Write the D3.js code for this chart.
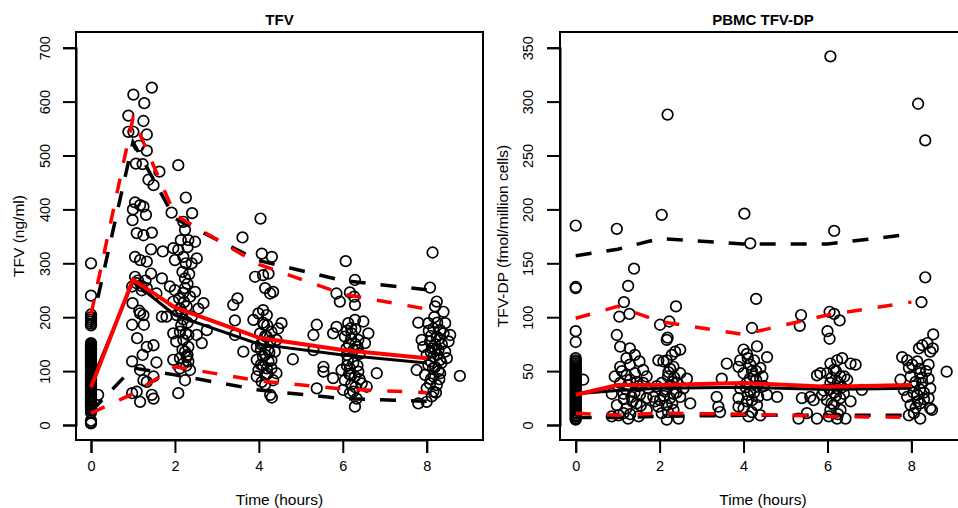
<!DOCTYPE html>
<html>
<head>
<meta charset="utf-8">
<script src="https://cdn.jsdelivr.net/npm/d3@7"></script>
<style>
  html, body { margin: 0; padding: 0; background: #fff; }
  svg { display: block; font-family: "Liberation Sans", Arial, sans-serif; }
</style>
</head>
<body>
<svg id="chart" width="958" height="508"></svg>
<script>
// ---------------- DATA ----------------
const binTimes = [0, 1, 2, 4, 6, 8];
const xTicks = [0, 2, 4, 6, 8];

// Panel 1: TFV (ng/ml)
const tfvTicks = [0, 100, 200, 300, 400, 500, 600, 700];
const tfvObsMedian = [70, 270, 218, 162, 139, 124];
const tfvObsP05 = [22, 58, 108, 82, 67, 60];
const tfvObsP95 = [205, 569, 390, 298, 243, 215];
const tfvPredMedian = [78, 266, 204, 150, 130, 115];
const tfvPredP05 = [25, 106, 93, 65, 49, 44];
const tfvPredP95 = [180, 525, 383, 305, 268, 251];
const tfvPoints = [
  [0,300],[0,240],[0,205],[0,200],[0,196],[0,192],[0,188],[0,185],[0,152],[0,150],[0,148],[0,146],[0,144],
  [0,142],[0,140],[0,138],[0,136],[0,134],[0,132],[0,130],[0,128],[0,126],[0,124],[0,122],[0,120],[0,118],
  [0,116],[0,114],[0,112],[0,110],[0,108],[0,106],[0,104],[0,102],[0,100],[0,98],[0,96],[0,94],[0,92],
  [0,90],[0,88],[0,86],[0,84],[0,82],[0,80],[0,78],[0,76],[0,74],[0,72],[0,70],[0,68],[0,66],[0,64],
  [0,62],[0,60],[0,58],[0,56],[0,54],[0,52],[0,50],[0,48],[0,46],[0,44],[0,42],[0,40],[0,38],[0,36],
  [0,34],[0,32],[0,30],[0,27],[0,23],[0,8],[0,5],[0,3],[0.17,56],
  [1.45,626],[1.01,613],[1.27,597],[0.89,574],[1.25,564],[0.89,544],[1.01,544],[1.33,539],[1.14,518],
  [1.33,509],[1.07,485],[1.23,484],[1.37,455],[1.49,445],[1.63,470],[1.05,413],[1.17,408],[1.25,405],
  [1.0,400],[1.31,390],[0.99,380],[1.09,356],[1.25,352],[1.45,357],[1.43,326],[1.05,312],[1.17,306],
  [1.33,303],[1.71,322],[1.43,281],[1.69,272],[1.05,275],[0.98,257],[1.09,263],[1.21,250],[1.33,254],
  [1.56,244],[0.99,226],[1.17,207],[1.25,204],[1.69,201],[0.98,186],[1.26,186],[1.1,161],[1.33,145],
  [1.49,148],[1.23,130],[0.98,118],[1.56,116],[1.17,102],[1.49,90],[1.25,83],[1.33,80],[0.98,59],
  [1.09,62],[1.45,56],[1.49,49],[1.17,43],[1.12,268],[1.2,258],[1.15,212],[1.3,268],
  [2.08,482],[2.26,422],[1.92,394],[2.41,393],[2.2,377],[2.24,362],[2.14,343],[2.32,343],[2.48,340],
  [1.96,328],[2.08,325],[2.0,306],[2.2,312],[2.4,300],[2.52,309],[2.18,284],[2.24,272],[1.88,257],
  [2.0,250],[2.24,254],[2.48,247],[2.36,238],[2.68,226],[1.96,229],[2.12,216],[2.28,220],[2.56,216],
  [1.8,201],[2.04,204],[2.4,201],[2.76,176],[1.96,170],[2.12,173],[2.2,158],[2.32,167],[2.52,167],
  [2.03,155],[2.32,145],[2.64,152],[2.24,136],[1.96,121],[2.12,124],[2.2,114],[2.32,118],[2.36,102],
  [2.24,83],[2.08,59],[2.16,210],[2.2,196],[2.28,126],[2.3,262],
  [2.1,235],[2.22,228],[2.3,190],[2.15,185],[2.26,170],[2.18,140],[2.27,110],[2.12,105],[2.3,130],
  [2.2,245],[2.34,280],[2.26,300],[2.3,330],
  [4.04,383],[3.61,348],[4.07,318],[4.31,312],[3.91,275],[4.1,278],[4.23,281],[3.49,235],[3.39,223],
  [4.15,254],[4.27,244],[4.34,247],[3.43,194],[3.87,195],[3.99,207],[4.1,213],[4.19,204],[4.54,189],
  [4.46,179],[3.43,167],[3.63,136],[4.03,170],[4.19,164],[4.27,155],[3.95,145],[4.1,152],[4.42,158],
  [4.38,136],[3.95,121],[4.1,127],[4.23,118],[4.81,122],[3.99,102],[4.19,105],[3.95,90],[4.15,93],
  [4.42,96],[4.07,80],[4.34,83],[4.27,56],[4.31,51],[5.38,68],[4.12,186],[4.22,140],[4.05,112],[4.3,173],
  [4.1,190],[4.2,185],[4.15,165],[4.05,150],[4.25,135],[4.15,130],[4.05,140],[4.3,120],[4.2,95],
  [4.1,110],[4.3,105],[4.15,75],
  [6.07,304],[6.29,269],[5.85,244],[6.17,246],[6.27,238],[6.29,223],[5.93,229],[5.38,186],[5.3,167],
  [5.77,170],[5.85,182],[6.13,189],[6.29,195],[6.49,192],[6.61,170],[6.05,164],[6.21,170],[6.37,158],
  [6.53,152],[6.09,142],[6.25,139],[5.3,139],[5.54,108],[5.54,99],[5.77,87],[5.97,102],[6.17,105],
  [6.37,99],[6.05,83],[6.29,90],[6.45,77],[6.81,96],[6.57,71],[6.01,65],[6.25,62],[6.33,49],[6.29,34],
  [6.17,59],[6.2,180],[6.3,150],[6.12,120],[6.4,132],[6.2,92],
  [6.1,175],[6.2,160],[6.3,178],[6.15,150],[6.35,145],[6.1,130],[6.25,115],[6.35,110],[6.1,110],
  [6.2,75],[6.4,85],[6.15,95],[6.3,70],
  [8.14,320],[8.08,255],[8.24,229],[8.2,220],[8.4,210],[7.8,190],[8.04,189],[8.44,189],[8.16,179],
  [8.32,176],[8.56,167],[7.88,158],[8.08,155],[8.24,164],[8.52,155],[7.92,145],[8.12,142],[8.28,139],
  [8.44,136],[8.0,130],[8.16,127],[8.32,121],[8.48,124],[8.04,111],[8.2,108],[7.76,102],[7.96,93],
  [8.16,90],[8.32,96],[8.08,77],[8.24,74],[8.0,68],[8.16,62],[7.8,40],[8.0,43],[8.12,53],[8.79,91],
  [8.2,150],[8.1,118],[8.28,100],[8.36,150],
  [8.1,165],[8.3,160],[8.2,140],[8.1,135],[8.25,130],[8.35,115],[8.15,105],[8.3,85],[8.1,85],[8.22,60],
  [8.25,190],[8.05,175],[8.18,200],[8.4,170]
];

// Panel 2: PBMC TFV-DP (fmol/million cells)
const dpTicks = [0, 50, 100, 150, 200, 250, 300, 350];
const dpObsMedian = [28, 37, 37, 39, 35.5, 37];
const dpObsP05 = [11, 9, 11, 10, 8, 7];
const dpObsP95 = [99, 110, 96, 84, 102, 114];
const dpPredMedian = [29, 32, 34, 35, 33, 34];
const dpPredP05 = [7, 7, 8, 9, 9, 9];
const dpPredP95 = [157, 163, 173, 168, 168, 177];
const dpPoints = [
  [0,185],[0,128],[0,127],[0,87],[0,77],[0,62],[0,60],[0,58.5],[0,57],[0,55.5],[0,54],[0,52.5],[0,51],
  [0,49.5],[0,48],[0,46.5],[0,45],[0,43.5],[0,42],[0,40.5],[0,39],[0,37.5],[0,36],[0,34.5],[0,33],
  [0,31.5],[0,30],[0,28.5],[0,27],[0,25.5],[0,24],[0,22.5],[0,21],[0,19.5],[0,18],[0,16.5],[0,15],
  [0,13.5],[0,12],[0,10.5],[0,9],[0,7.5],[0,6],[0,5],[0.18,42],
  [0.98,182],[1.39,145],[1.25,129],[1.15,114],[1.28,103],[1.04,100.5],[0.98,83.5],[1.06,72.7],[1.29,71],
  [1.41,65],[1.21,62],[1.52,59],[1.06,54],[1.29,56],[0.93,45],[1.21,46],[1.41,48],[1.61,51],[1.69,45],
  [1.06,39],[1.25,37],[1.45,40],[1.61,39],[1.73,34],[0.86,29],[1.14,29],[1.33,26],[1.53,28],[1.69,25],
  [1.89,22],[0.98,18.5],[1.21,15.5],[1.45,20],[1.69,14],[1.02,9],[1.25,6],[0.86,8],[1.14,11],
  [1.1,50],[1.3,42],[1.2,33],[1.4,30],[1.5,36],[1.35,22],[1.15,24],[1.55,18],[1.3,10],[1.5,8],
  [2.05,195],[2.19,288],[2.39,110],[2.23,96],[2.01,93],[2.19,81],[2.17,79],[2.49,70],[2.37,68],
  [2.29,65],[2.17,60],[1.97,60],[2.09,59],[2.33,54],[2.21,49],[2.49,48],[2.65,43],[2.05,39],[2.25,37],
  [2.41,39],[2.57,34],[1.93,36],[2.13,31],[2.33,29],[2.49,26],[2.73,20],[2.01,23],[2.17,18.5],[2.33,14],
  [2.05,11],[2.17,5],[2.45,6],[1.85,26],[1.97,17],
  [2.2,45],[2.3,40],[2.15,33],[2.25,25],[2.4,30],[2.1,27],[2.3,20],[2.2,12],[2.35,44],[2.25,52],
  [4.02,196],[4.16,168.5],[4.3,117],[4.2,90],[3.6,57],[3.48,43],[3.36,26],[3.4,17],[3.44,12],[4.0,70],
  [3.92,60],[4.08,66],[4.32,73],[4.56,63],[3.88,54],[4.16,56],[4.4,53],[4.0,48],[4.24,45],[4.08,39],
  [4.32,36],[4.48,36],[3.92,34],[4.16,31],[4.56,28],[4.8,26],[3.88,25],[4.08,22],[4.32,18.5],[4.0,15.5],
  [4.2,12],[4.4,9],[4.12,8],[3.88,17],
  [4.1,62],[4.2,50],[4.3,42],[4.15,43],[4.25,30],[4.2,23],[4.35,26],[4.1,28],[4.3,50],[4.05,35],
  [4.25,60],[4.45,45],
  [6.07,342],[6.16,180],[6.05,105],[6.16,103],[6.29,97],[6.0,87],[6.05,80],[5.37,102],[5.34,92],
  [5.75,46],[5.83,48],[6.07,57],[6.23,60],[6.35,62],[6.55,57],[6.67,56],[5.99,48],[6.15,51],[6.31,45],
  [6.47,42],[6.82,32.5],[5.39,25],[5.59,26],[5.67,23],[5.87,28],[6.07,39],[6.23,34],[6.39,29],[6.55,22],
  [5.99,23],[6.15,18.5],[6.31,14],[5.51,11],[5.31,6],[5.75,6],[6.03,8],[6.23,6],[6.43,6],[6.07,14],[5.91,32],
  [6.1,44],[6.2,50],[6.25,40],[6.15,30],[6.3,25],[6.2,27],[6.35,35],[6.1,20],[6.25,10],[6.4,45],[6.05,33],
  [8.16,298],[8.33,264],[8.33,137],[8.24,114],[8.52,84],[8.26,74],[8.38,76],[8.18,71],[8.51,71],[8.45,68],
  [8.84,49.5],[7.78,63],[7.9,60],[8.02,56],[7.94,53],[8.14,59],[8.41,56],[7.74,42],[7.98,45],[8.21,48],
  [8.41,43],[7.82,32.5],[8.06,36],[8.26,39],[8.45,34],[7.9,26],[8.14,28],[8.41,25],[7.98,18.5],[8.21,20],
  [8.45,15.5],[7.94,9],[8.21,6],[8.49,14],[8.06,11],
  [8.1,40],[8.2,33],[8.3,30],[8.15,22],[8.25,44],[8.35,50],[8.2,52],[8.1,16],[8.3,24],[8.05,30]
];

// ---------------- DRAWING ----------------
const svg = d3.select("#chart");
const FONT = "Liberation Sans, Arial, sans-serif";

function drawPanel(cfg) {
  const g = svg.append("g");
  const x = d3.scaleLinear().domain([0, 8]).range([cfg.x0, cfg.x0 + 335.7]);
  const y = d3.scaleLinear().domain([0, cfg.yMax]).range([425, 47.7]);

  // points
  g.append("g").selectAll("circle").data(cfg.points).join("circle")
    .attr("cx", d => x(d[0])).attr("cy", d => y(d[1])).attr("r", 5.3)
    .attr("fill", "none").attr("stroke", "#000").attr("stroke-width", 1.7);

  const line = d3.line().x((d, i) => x(binTimes[i])).y(d => y(d));
  const series = [
    { v: cfg.predP05, c: "#000", w: 3.5, dash: "16,15" },
    { v: cfg.predP95, c: "#000", w: 3.5, dash: "16,15" },
    { v: cfg.obsP05, c: "#ff0000", w: 3.5, dash: "15,16" },
    { v: cfg.obsP95, c: "#ff0000", w: 3.5, dash: "15,16" },
    { v: cfg.predMedian, c: "#000", w: 3, dash: null },
    { v: cfg.obsMedian, c: "#ff0000", w: 4, dash: null }
  ];
  series.forEach(s => {
    g.append("path").attr("d", line(s.v)).attr("fill", "none")
      .attr("stroke", s.c).attr("stroke-width", s.w)
      .attr("stroke-dasharray", s.dash).attr("stroke-linecap", "butt");
  });

  // box
  g.append("rect").attr("x", cfg.bx0).attr("y", 32).attr("width", cfg.bx1 - cfg.bx0).attr("height", 408)
    .attr("fill", "none").attr("stroke", "#000").attr("stroke-width", 2);

  // x axis
  const xa = g.append("g").attr("transform", "translate(0,440)")
    .call(d3.axisBottom(x).tickValues(xTicks).tickSize(13).tickPadding(8).tickFormat(d3.format("d")));
  xa.select(".domain").attr("stroke-width", 2);
  xa.selectAll(".tick line").attr("stroke-width", 2);
  xa.selectAll("text").attr("font-size", 14.5).attr("font-family", FONT).attr("fill", "#000");

  // y axis
  const ya = g.append("g").attr("transform", `translate(${cfg.bx0},0)`)
    .call(d3.axisLeft(y).tickValues(cfg.yTicks).tickSize(13).tickFormat(d3.format("d")));
  ya.select(".domain").attr("stroke-width", 2);
  ya.selectAll(".tick line").attr("stroke-width", 2);
  ya.selectAll(".tick text")
    .attr("font-size", 14.5).attr("font-family", FONT).attr("fill", "#000")
    .attr("x", null).attr("dy", null).attr("text-anchor", "middle")
    .attr("transform", `translate(${-cfg.tickLabOff},0) rotate(-90)`);

  // titles
  const cx = (cfg.bx0 + cfg.bx1) / 2;
  g.append("text").attr("x", cx).attr("y", 25).attr("text-anchor", "middle")
    .attr("font-size", 15).attr("font-weight", "bold").attr("font-family", FONT).text(cfg.title);
  g.append("text").attr("x", cx).attr("y", 504.5).attr("text-anchor", "middle")
    .attr("font-size", 15.5).attr("font-family", FONT).text("Time (hours)");
  g.append("text").attr("transform", `translate(${cfg.yTitleX},236) rotate(-90)`)
    .attr("text-anchor", "middle").attr("font-size", 15.5).attr("font-family", FONT).text(cfg.yTitle);
}

drawPanel({
  title: "TFV", yTitle: "TFV (ng/ml)", x0: 91, bx0: 76, bx1: 483, yMax: 700,
  yTicks: tfvTicks, points: tfvPoints, tickLabOff: 26, yTitleX: 24,
  obsMedian: tfvObsMedian, obsP05: tfvObsP05, obsP95: tfvObsP95,
  predMedian: tfvPredMedian, predP05: tfvPredP05, predP95: tfvPredP95
});
drawPanel({
  title: "PBMC TFV-DP", yTitle: "TFV-DP (fmol/million cells)", x0: 575.7, bx0: 560, bx1: 966, yMax: 350,
  yTicks: dpTicks, points: dpPoints, tickLabOff: 27, yTitleX: 508,
  obsMedian: dpObsMedian, obsP05: dpObsP05, obsP95: dpObsP95,
  predMedian: dpPredMedian, predP05: dpPredP05, predP95: dpPredP95
});
</script>
</body>
</html>
